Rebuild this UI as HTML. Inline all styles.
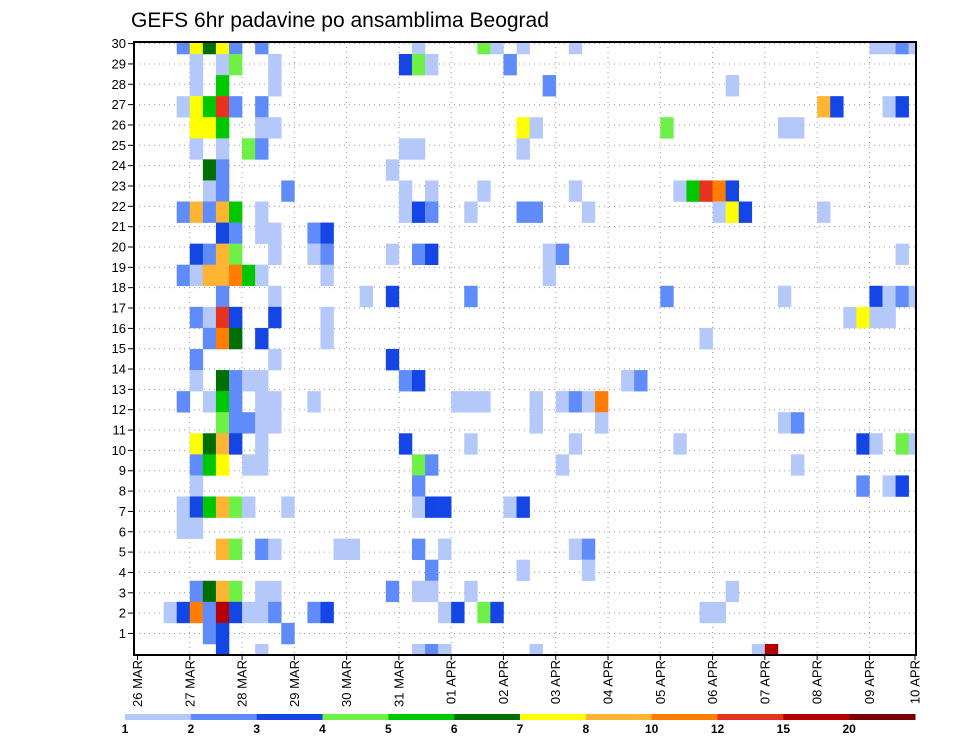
<!DOCTYPE html>
<html><head><meta charset="utf-8">
<style>
html,body{margin:0;padding:0;background:#fff;}
svg{display:block;font-family:"Liberation Sans",sans-serif;}
</style></head>
<body>
<svg id="chart" width="960" height="742" viewBox="0 0 960 742">
<text x="131" y="27" font-size="21" fill="#000">GEFS 6hr padavine po ansamblima Beograd</text>
<defs><clipPath id="plotclip"><rect x="134" y="42" width="782" height="613"/></clipPath></defs>
<g id="grid"></g>
<g id="cells" clip-path="url(#plotclip)"></g>
<rect x="134" y="42" width="782" height="613" fill="none" stroke="#000" stroke-width="2"/>
<g id="yaxis"></g>
<g id="xaxis"></g>
<g id="colorbar"></g>
</svg>
<script>
// ---- data: time step index (6h steps from 26 MAR 00Z), member band (0 = bottom), precip value (mm)
const timeIdx = [3,4,5,6,7,9,21,26,27,29,33,56,57,58,59, 4,6,7,10,20,21,22,28, 4,6,10,31,45, 3,4,5,6,7,9,52,53,57,58, 4,5,6,9,10,29,30,40,49,50, 4,6,8,9,20,21,29, 5,6,19, 5,6,11,20,22,26,33,41,42,43,44,45, 3,4,5,6,7,9,20,21,22,25,29,30,34,44,45,46,52, 6,7,9,10,13,14, 4,5,6,7,10,13,14,19,21,22,31,32,58, 3,4,5,6,7,8,9,14,31, 6,10,17,19,25,40,49,56,57,58,59, 4,5,6,7,10,14,54,55,56,57, 5,6,7,9,14,43, 4,10,19, 4,6,7,8,9,20,21,37,38, 3,5,6,7,9,10,13,24,25,26,30,32,33,34,35, 6,7,8,9,10,30,35,49,50, 4,5,6,7,9,20,25,33,41,55,56,58,59, 4,5,6,8,9,21,22,32,50, 4,21,55,57,58, 3,4,5,6,7,8,11,21,22,23,28,29, 3,4, 6,7,9,10,15,16,21,23,33,34, 22,29,34, 4,5,6,7,9,10,19,21,22,25,45, 2,3,4,5,6,7,8,9,10,13,14,23,24,26,27,43,44, 5,6,11, 6,9,21,22,23,30,47,48];
const member = [29,29,29,29,29,29,29,29,29,29,29,29,29,29,29, 28,28,28,28,28,28,28,28, 27,27,27,27,27, 26,26,26,26,26,26,26,26,26,26, 25,25,25,25,25,25,25,25,25,25, 24,24,24,24,24,24,24, 23,23,23, 22,22,22,22,22,22,22,22,22,22,22,22, 21,21,21,21,21,21,21,21,21,21,21,21,21,21,21,21,21, 20,20,20,20,20,20, 19,19,19,19,19,19,19,19,19,19,19,19,19, 18,18,18,18,18,18,18,18,18, 17,17,17,17,17,17,17,17,17,17,17, 16,16,16,16,16,16,16,16,16,16, 15,15,15,15,15,15, 14,14,14, 13,13,13,13,13,13,13,13,13, 12,12,12,12,12,12,12,12,12,12,12,12,12,12,12, 11,11,11,11,11,11,11,11,11, 10,10,10,10,10,10,10,10,10,10,10,10,10, 9,9,9,9,9,9,9,9,9, 8,8,8,8,8, 7,7,7,7,7,7,7,7,7,7,7,7, 6,6, 5,5,5,5,5,5,5,5,5,5, 4,4,4, 3,3,3,3,3,3,3,3,3,3,3, 2,2,2,2,2,2,2,2,2,2,2,2,2,2,2,2,2, 1,1,1, 0,0,0,0,0,0,0,0];
const values = [2.5,7.5,6.5,7.5,2.5,2.5,1.5,4.5,1.5,1.5,1.5,1.5,1.5,2.5,1.5, 1.5,1.5,4.5,1.5,3.5,4.5,1.5,2.5, 1.5,5.5,1.5,2.5,1.5, 1.5,7.5,5.5,13.5,2.5,2.5,9,3.5,1.5,3.5, 7.5,7.5,5.5,1.5,1.5,7.5,1.5,4.5,1.5,1.5, 1.5,1.5,4.5,2.5,1.5,1.5,1.5, 6.5,2.5,1.5, 1.5,2.5,2.5,1.5,1.5,1.5,1.5,1.5,5.5,13.5,11,3.5, 2.5,9,2.5,9,5.5,1.5,1.5,3.5,2.5,1.5,2.5,2.5,1.5,1.5,7.5,3.5,1.5, 3.5,2.5,1.5,1.5,2.5,3.5, 3.5,2.5,9,4.5,1.5,1.5,2.5,1.5,2.5,3.5,1.5,2.5,1.5, 2.5,1.5,9,9,11,5.5,1.5,1.5,1.5, 2.5,1.5,1.5,3.5,2.5,2.5,1.5,3.5,1.5,2.5,1.5, 2.5,1.5,13.5,3.5,3.5,1.5,1.5,7.5,1.5,1.5, 2.5,11,6.5,3.5,1.5,1.5, 2.5,1.5,3.5, 1.5,6.5,2.5,1.5,1.5,2.5,3.5,1.5,2.5, 2.5,1.5,5.5,2.5,1.5,1.5,1.5,1.5,1.5,1.5,1.5,1.5,2.5,1.5,11, 4.5,2.5,2.5,1.5,1.5,1.5,1.5,1.5,2.5, 7.5,6.5,9,3.5,1.5,3.5,1.5,1.5,1.5,3.5,1.5,4.5,1.5, 2.5,5.5,7.5,1.5,1.5,4.5,2.5,1.5,1.5, 1.5,2.5,2.5,1.5,3.5, 1.5,3.5,5.5,9,4.5,1.5,1.5,1.5,3.5,3.5,1.5,3.5, 1.5,1.5, 9,4.5,2.5,1.5,1.5,1.5,2.5,1.5,1.5,2.5, 2.5,1.5,1.5, 2.5,6.5,9,4.5,1.5,1.5,2.5,1.5,1.5,1.5,1.5, 1.5,3.5,11,2.5,17,3.5,1.5,1.5,2.5,2.5,3.5,1.5,3.5,4.5,3.5,1.5,1.5, 2.5,3.5,2.5, 3.5,1.5,1.5,2.5,1.5,1.5,1.5,17];
const levels = [1,2,3,4,5,6,7,8,10,12,15,20];
const levelColors = ["#b4c8fa","#5f8cfa","#1446e6","#6ef046","#00c800","#006e00","#ffff00","#ffb432","#ff7d00","#e6321e","#b40000","#780000"];
const dayLabels = ["26 MAR","27 MAR","28 MAR","29 MAR","30 MAR","31 MAR","01 APR","02 APR","03 APR","04 APR","05 APR","06 APR","07 APR","08 APR","09 APR","10 APR"];
const yTicks = [1,2,3,4,5,6,7,8,9,10,11,12,13,14,15,16,17,18,19,20,21,22,23,24,25,26,27,28,29,30];

const NS="http://www.w3.org/2000/svg";
function mk(tag,attrs,parent){const e=document.createElementNS(NS,tag);for(const k in attrs)e.setAttribute(k,attrs[k]);parent.appendChild(e);return e;}
// axis functions
const X0=137.5, DX=13.07;
function xStep(k){return X0+DX*k;}
function xDay(d){return d>=15?915:X0+4*DX*d;}
const BAND=21.07;
function yBand(m){return 654.5-BAND*m;}          // centre of member band
function yTick(v){return 653.8-20.34*v;}
function colorFor(v){let c=levelColors[0];for(let i=0;i<levels.length;i++){if(v>=levels[i])c=levelColors[i];}return c;}

const grid=document.getElementById('grid');
yTicks.forEach(v=>{
  const l=mk('line',{x1:134,x2:916,y1:yTick(v),y2:yTick(v),stroke:"#999","stroke-width":1,"stroke-dasharray":"1,4"},grid);
  
  
});
dayLabels.forEach((d,i)=>{
  if(i===0||i===15)return;
  const l=mk('line',{x1:xDay(i),x2:xDay(i),y1:42,y2:655,stroke:"#999","stroke-width":1,"stroke-dasharray":"1,4"},grid);
  
  
});

const cells=document.getElementById('cells');
for(let i=0;i<values.length;i++){
  const x=xStep(timeIdx[i]), yc=yBand(member[i]);
  const r=mk('rect',{x:x,y:yc-BAND/2,width:DX+0.3,height:BAND+0.3,fill:colorFor(values[i])},cells);
  
  
}

const ya=document.getElementById('yaxis');
yTicks.forEach(v=>{
  const y=yTick(v);
  const t=mk('line',{x1:128,x2:134,y1:y,y2:y,stroke:"#000","stroke-width":1},ya);
  
  
  const tx=mk('text',{x:126,y:y+4.5,"font-size":13,"text-anchor":"end",fill:"#000"},ya);
  tx.textContent=v;
  
  
});

const xa=document.getElementById('xaxis');
dayLabels.forEach((d,i)=>{
  const x=xDay(i);
  const t=mk('line',{x1:x,x2:x,y1:655,y2:660,stroke:"#000","stroke-width":1},xa);
  
  
  const tx=mk('text',{x:0,y:0,"font-size":13,"text-anchor":"end",fill:"#000",transform:"translate("+(x+4.5)+",660) rotate(-90)"},xa);
  tx.textContent=d;
  
  
});

const cb=document.getElementById('colorbar');
const cbX0=125, cbW=(915-125)/levels.length;
levelColors.forEach((c,i)=>{
  const r=mk('rect',{x:cbX0+cbW*i,y:714,width:cbW+0.5,height:6,fill:c},cb);
  
  
});
levels.forEach((v,i)=>{
  const tx=mk('text',{x:cbX0+cbW*i,y:733,"font-size":12,"font-weight":"bold","text-anchor":"middle",fill:"#000"},cb);
  tx.textContent=v;
  
  
});
</script>
</body></html>
